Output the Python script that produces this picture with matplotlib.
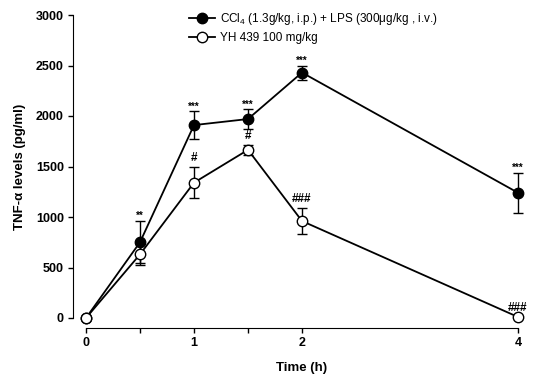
import matplotlib
matplotlib.use("Agg")
import matplotlib.pyplot as plt
from matplotlib.lines import Line2D

plt.rcParams['font.family'] = ['Liberation Sans', 'DejaVu Sans']
plt.rcParams['mathtext.fontset'] = 'custom'
plt.rcParams['mathtext.rm'] = 'Liberation Sans'
plt.rcParams['mathtext.it'] = 'Liberation Sans'

time = [0, 0.5, 1, 1.5, 2, 4]
ccl4_mean = [0, 750, 1910, 1970, 2430, 1240]
ccl4_sd = [0, 210, 135, 95, 70, 200]
yh_mean = [0, 630, 1340, 1665, 960, 10]
yh_sd = [0, 105, 155, 50, 130, 0]
ccl4_sig = ['', '**', '***', '***', '***', '***']
yh_sig = ['', '', '#', '#', '###', '###']
series_labels = [r'CCl$_4$ (1.3g/kg, i.p.) + LPS (300μg/kg , i.v.)', 'YH 439 100 mg/kg']
xticks = [0, 0.5, 1, 1.5, 2, 4]
xticklabels = ['0', '', '1', '', '2', '4']
yticks = [0, 500, 1000, 1500, 2000, 2500, 3000]

fig = plt.figure(figsize=(5.41, 3.76), dpi=100)
ax = fig.add_axes([86/541, 1-318/376, 432/541, 303/376])

ax.errorbar(time, ccl4_mean, yerr=ccl4_sd, color='black', lw=1.3, marker='o',
            ms=7.5, mfc='black', mec='black', capsize=3.5, elinewidth=1.0,
            capthick=1.0, zorder=3, clip_on=False)
ax.errorbar(time, yh_mean, yerr=yh_sd, color='black', lw=1.3, marker='o',
            ms=7.5, mfc='white', mec='black', mew=1.0, capsize=3.5, elinewidth=1.0,
            capthick=1.0, zorder=4, clip_on=False)

for t, m, s, lab in zip(time, ccl4_mean, ccl4_sd, ccl4_sig):
    if lab:
        ax.annotate(lab, (t, m + s), xytext=(0, 0), textcoords='offset points',
                    ha='center', va='bottom', fontsize=7, fontweight='bold')
for t, m, s, lab in zip(time, yh_mean, yh_sd, yh_sig):
    if lab:
        ax.annotate(lab, (t, m + s), xytext=(0, 2), textcoords='offset points',
                    ha='center', va='bottom', fontsize=8.5, fontweight='bold')

ax.set_xlim(0, 4)
ax.set_ylim(0, 3000)
ax.set_xticks(xticks)
ax.set_xticklabels(xticklabels)
ax.set_yticks(yticks)
ax.spines['top'].set_visible(False)
ax.spines['right'].set_visible(False)
ax.spines['left'].set_position(('outward', 9.4))
ax.spines['bottom'].set_position(('outward', 7.2))
ax.tick_params(direction='out', length=3.5, width=1, labelsize=9, pad=3)
for lbl in ax.get_xticklabels() + ax.get_yticklabels():
    lbl.set_fontweight('bold')

ax.set_xlabel('Time (h)', fontsize=9.5, fontweight='bold', labelpad=9)
ax.set_ylabel('TNF-α levels (pg/ml)', fontsize=9.5, fontweight='bold', labelpad=7)

handles = [
    Line2D([], [], color='black', lw=1.3, marker='o', ms=7.5, mfc='black', mec='black'),
    Line2D([], [], color='black', lw=1.3, marker='o', ms=7.5, mfc='white', mec='black', mew=1.0),
]
ax.legend(handles, series_labels, loc='upper left', bbox_to_anchor=(0.228, 1.03),
          frameon=False, fontsize=8.5, handlelength=2.2, handletextpad=0.4,
          labelspacing=0.45, borderaxespad=0)

fig.savefig('out.png', dpi=100)
